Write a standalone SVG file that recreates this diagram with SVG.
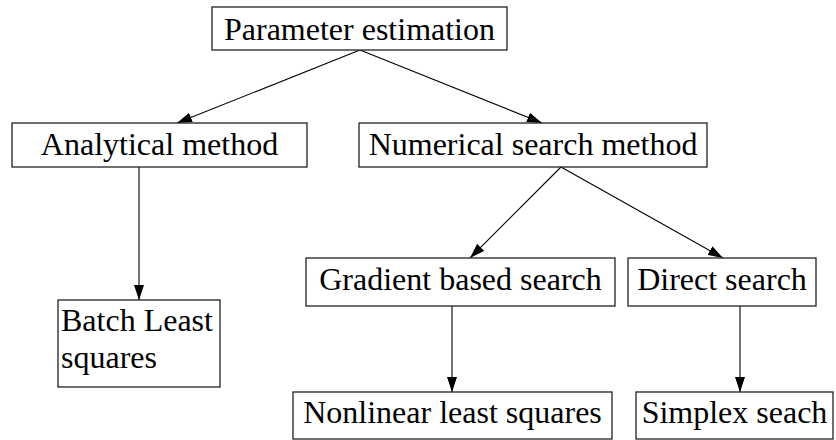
<svg xmlns="http://www.w3.org/2000/svg" width="836" height="440" viewBox="0 0 836 440">
<style>
.box{fill:#fff;stroke:#222;stroke-width:1.3}
.lbl{font-family:"Liberation Serif","Times New Roman",serif;font-size:32px;fill:#000}
.c{text-anchor:middle}
.edge{stroke:#000;stroke-width:1.1;fill:none;marker-end:url(#ah)}
</style>
<defs>
<marker id="ah" markerUnits="userSpaceOnUse" markerWidth="15" markerHeight="10" refX="15" refY="5" orient="auto" viewBox="0 0 15 10">
<path d="M0,0 L15,5 L0,10 z" fill="#000"/>
</marker>
</defs>
<rect width="836" height="440" fill="#fff"/>
<g id="connectors">
<line class="edge" x1="360" y1="50" x2="177" y2="123"/>
<line class="edge" x1="360" y1="50" x2="542" y2="123"/>
<line class="edge" x1="139" y1="167" x2="139" y2="300"/>
<line class="edge" x1="561" y1="167" x2="470" y2="258"/>
<line class="edge" x1="561" y1="167" x2="723" y2="258"/>
<line class="edge" x1="452" y1="306" x2="452" y2="392"/>
<line class="edge" x1="740" y1="306" x2="740" y2="392"/>
</g>
<g id="param">
<rect class="box" x="212" y="7" width="295" height="43"/>
<text class="lbl c" x="359.5" y="40">Parameter estimation</text>
</g>
<g id="analytical">
<rect class="box" x="12" y="123" width="295" height="44"/>
<text class="lbl c" x="159.5" y="155">Analytical method</text>
</g>
<g id="numerical">
<rect class="box" x="359" y="123" width="348" height="44"/>
<text class="lbl c" x="533" y="155">Numerical search method</text>
</g>
<g id="batch">
<rect class="box" x="58" y="300" width="162" height="87"/>
<text class="lbl" x="61" y="331">Batch Least</text>
<text class="lbl" x="61" y="368">squares</text>
</g>
<g id="gradient">
<rect class="box" x="306" y="258" width="309" height="48"/>
<text class="lbl c" x="460.5" y="290">Gradient based search</text>
</g>
<g id="direct">
<rect class="box" x="628" y="258" width="188" height="48"/>
<text class="lbl c" x="722" y="290">Direct search</text>
</g>
<g id="nonlinear">
<rect class="box" x="293" y="392" width="319" height="47"/>
<text class="lbl c" x="452.5" y="423">Nonlinear least squares</text>
</g>
<g id="simplex">
<rect class="box" x="636" y="392" width="197" height="47"/>
<text class="lbl c" x="734.5" y="423">Simplex seach</text>
</g>
</svg>
